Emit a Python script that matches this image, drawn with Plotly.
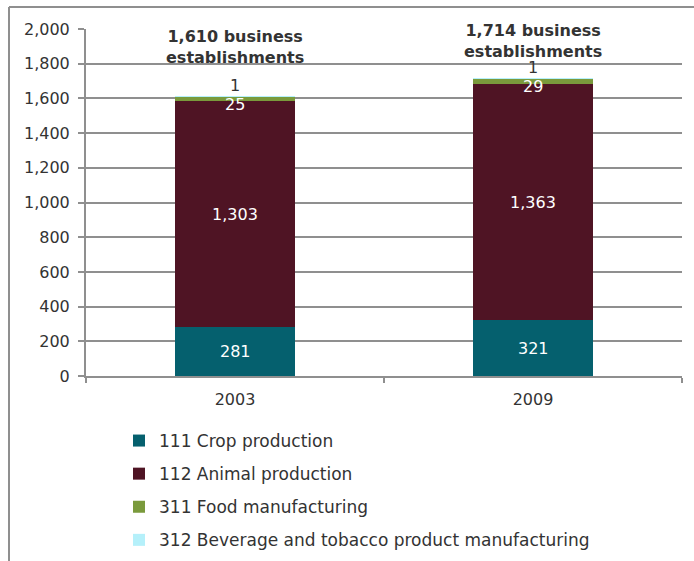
import plotly.graph_objects as go

# Establishment counts by industry, stacked per year
years = ["2003", "2009"]
crop = [281, 321]
animal = [1303, 1363]
food = [25, 29]
beverage = [1, 1]

series_names = [
    "111 Crop production",
    "112 Animal production",
    "311 Food manufacturing",
    "312 Beverage and tobacco product manufacturing",
]
series_values = [crop, animal, food, beverage]
series_colors = ["#05606E", "#4F1424", "#7A9A3C", "#B5F0FA"]

W, H = 694, 561
L, R, T, B = 86, 12, 29, 185
PW, PH = W - L - R, H - T - B

GRID = "#8F8F8F"
TXT = "#333333"
FONT = "DejaVu Sans, Liberation Sans, Arial, sans-serif"
FS = 16


def px_x(px):
    return (px - L) / PW


def px_y(py):
    return (H - B - py) / PH


fig = go.Figure()
for name, vals, col in zip(series_names, series_values, series_colors):
    fig.add_trace(go.Bar(
        x=years, y=vals, name=name, marker=dict(color=col, line=dict(width=0)),
        legendgroup=name, hoverinfo="skip",
    ))

# Category positions are given by index so numeric-looking labels stay categorical
annotations = []
totals = [sum(v[i] for v in series_values) for i in range(len(years))]
for i in range(len(years)):
    base = 0
    for k, vals in enumerate(series_values):
        v = vals[i]
        mid = base + v / 2
        if k < 2:
            annotations.append(dict(x=i, y=mid, text=f"{v:,}", showarrow=False,
                                    font=dict(color="white", size=FS, family=FONT)))
        elif k == 2:
            annotations.append(dict(x=i, y=mid, text=f"{v:,}", showarrow=False,
                                    yanchor="top", yshift=6,
                                    font=dict(color="white", size=FS, family=FONT)))
        else:
            annotations.append(dict(x=i, y=base + v, text=f"{v:,}", showarrow=False,
                                    yanchor="bottom", yshift=0,
                                    font=dict(color=TXT, size=FS, family=FONT)))
        base += v

total_shift = [28, 16]
for i in range(len(years)):
    annotations.append(dict(
        x=i, y=totals[i], yanchor="bottom", yshift=total_shift[i], showarrow=False,
        text=f"<b>{totals[i]:,} business<br>establishments</b>",
        font=dict(color=TXT, size=FS, family=FONT),
    ))

# Outer frame lines (top and left edges)
shapes = [
    dict(type="line", xref="paper", yref="paper", x0=px_x(9), x1=px_x(W),
         y0=px_y(7), y1=px_y(7), line=dict(color=GRID, width=2)),
    dict(type="line", xref="paper", yref="paper", x0=px_x(9), x1=px_x(9),
         y0=px_y(7), y1=px_y(H), line=dict(color=GRID, width=2)),
]

fig.update_layout(
    width=W, height=H,
    margin=dict(l=L, r=R, t=T, b=B, pad=0, autoexpand=False),
    paper_bgcolor="white", plot_bgcolor="white",
    barmode="stack", bargap=0.6,
    font=dict(family=FONT, size=FS, color=TXT),
    annotations=annotations,
    shapes=shapes,
    legend=dict(
        orientation="v", xref="container", yref="container",
        x=119 / W, y=1 - 423 / H, xanchor="left", yanchor="top",
        traceorder="grouped", tracegroupgap=8, font=dict(size=17, color=TXT),
        bgcolor="rgba(0,0,0,0)",
    ),
    xaxis=dict(
        type="category", range=[-0.5, len(years) - 0.5], automargin=False,
        showline=True, linecolor=GRID, linewidth=2,
        ticks="outside", tickson="boundaries", ticklen=5, tickwidth=2, tickcolor=GRID,
        showgrid=False, tickfont=dict(size=FS, color=TXT), tickangle=0,
        ticklabelstandoff=8,
    ),
    yaxis=dict(
        range=[0, 2000], dtick=200, tickformat=",", automargin=False,
        showline=True, linecolor=GRID, linewidth=2,
        ticks="outside", ticklen=6, tickwidth=2, tickcolor=GRID,
        showgrid=True, gridcolor=GRID, gridwidth=2, zeroline=False,
        tickfont=dict(size=FS, color=TXT), ticklabelstandoff=5,
    ),
)

fig.write_html("out.html")
